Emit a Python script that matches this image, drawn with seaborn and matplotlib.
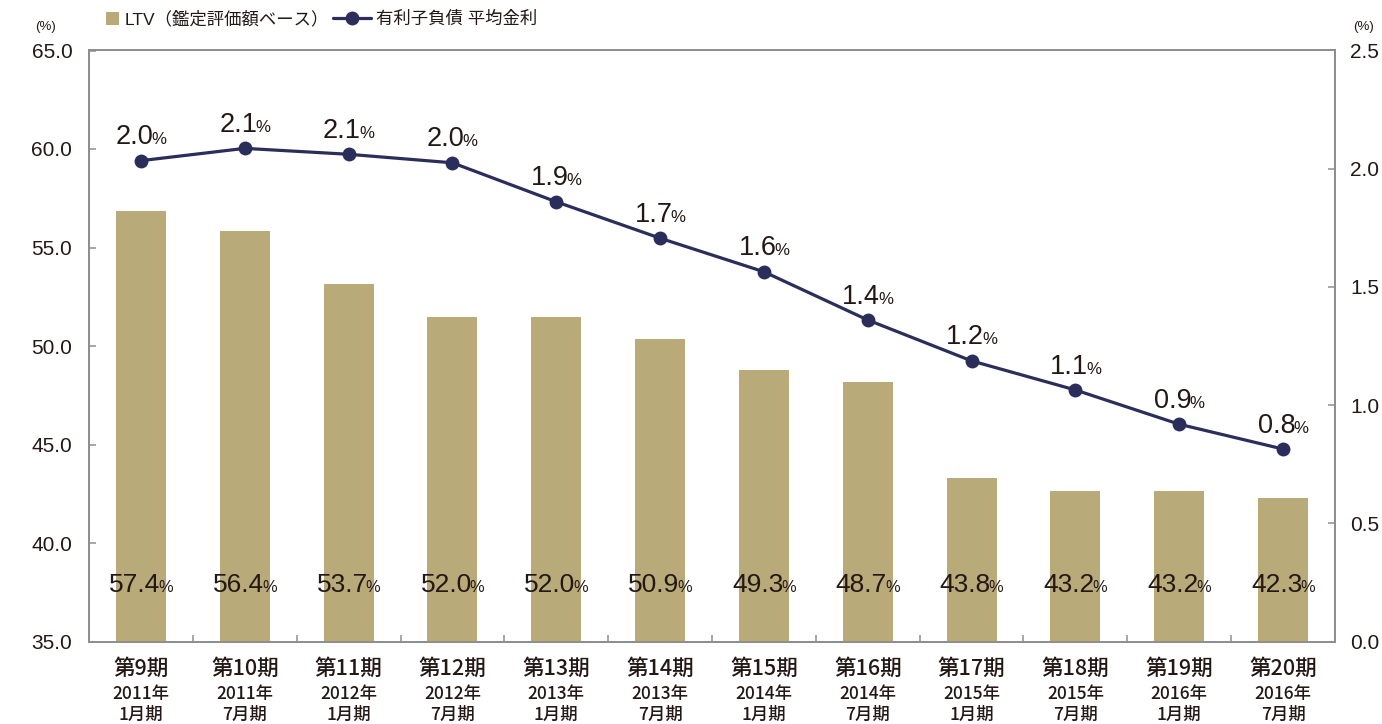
import numpy as np
import pandas as pd
import matplotlib
matplotlib.use('Agg')
import matplotlib.pyplot as plt
import seaborn as sns
from matplotlib.offsetbox import TextArea, HPacker, AnnotationBbox
from matplotlib.patches import Patch
from matplotlib.lines import Line2D
from matplotlib.ticker import FormatStrFormatter, FixedLocator

# ---------------- data ----------------
periods = ['第9期', '第10期', '第11期', '第12期', '第13期', '第14期',
           '第15期', '第16期', '第17期', '第18期', '第19期', '第20期']
years = ['2011年', '2011年', '2012年', '2012年', '2013年', '2013年',
         '2014年', '2014年', '2015年', '2015年', '2016年', '2016年']
months = ['1月期', '7月期', '1月期', '7月期', '1月期', '7月期',
          '1月期', '7月期', '1月期', '7月期', '1月期', '7月期']
# LTV bars as drawn (left axis) and their printed labels
ltv_bar = [56.85, 55.84, 53.15, 51.49, 51.49, 50.35, 48.78, 48.19, 43.28, 42.64, 42.64, 42.27]
ltv_labels = ['57.4', '56.4', '53.7', '52.0', '52.0', '50.9', '49.3', '48.7', '43.8', '43.2', '43.2', '42.3']
# average interest rate (right axis) and printed labels
rate = [2.034, 2.086, 2.061, 2.025, 1.860, 1.706, 1.564, 1.360, 1.187, 1.064, 0.919, 0.814]
rate_labels = ['2.0', '2.1', '2.1', '2.0', '1.9', '1.7', '1.6', '1.4', '1.2', '1.1', '0.9', '0.8']
legend_labels = ['LTV（鑑定評価額ベース）', '有利子負債 平均金利']
left_ticks = [35.0, 40.0, 45.0, 50.0, 55.0, 60.0, 65.0]
right_ticks = [0.0, 0.5, 1.0, 1.5, 2.0, 2.5]

# ---------------- style ----------------
BAR = '#b8aa79'
LINE = '#2b2e5a'
TXT = '#231815'
SPINE = '#8e8e8e'
LAT = 'Liberation Sans'
JP = 'Noto Sans CJK JP'
FAM = [LAT, JP]

sns.set_style('white')
plt.rcParams['font.family'] = FAM
plt.rcParams['text.color'] = TXT
plt.rcParams['xtick.color'] = SPINE
plt.rcParams['ytick.color'] = SPINE
plt.rcParams['xtick.labelcolor'] = TXT
plt.rcParams['ytick.labelcolor'] = TXT

fig = plt.figure(figsize=(13.82, 7.24), dpi=100)
ax = fig.add_axes([89 / 1382, 1 - 641.5 / 724, (1335 - 89) / 1382, (641.5 - 50.5) / 724])
ax2 = ax.twinx()

df = pd.DataFrame({'period': periods, 'ltv': ltv_bar, 'rate': rate, 'x': np.arange(len(periods))})

sns.barplot(data=df, x='period', y='ltv', ax=ax, color=BAR, width=0.48,
            saturation=1, linewidth=0)
sns.lineplot(data=df, x='x', y='rate', ax=ax2, color=LINE, linewidth=2.3,
             marker='o', markersize=10, markeredgewidth=0, legend=False)

n = len(periods)
ax.set_xlim(-0.5, n - 0.5)
ax2.set_xlim(-0.5, n - 0.5)
ax.set_ylim(35, 65)
ax2.set_ylim(0, 2.5)
ax.set_xlabel('')
ax.set_ylabel('')
ax2.set_xlabel('')
ax2.set_ylabel('')

ax.yaxis.set_major_locator(FixedLocator(left_ticks))
ax.yaxis.set_major_formatter(FormatStrFormatter('%.1f'))
ax2.yaxis.set_major_locator(FixedLocator(right_ticks))
ax2.yaxis.set_major_formatter(FormatStrFormatter('%.1f'))

ax.set_xticks([])
ax.set_xticks(np.arange(0.5, n - 0.5, 1.0), minor=True)
ax.tick_params(axis='x', which='minor', direction='in', length=5, width=1.1,
               color=SPINE, bottom=True, top=False, labelbottom=False)
ax.tick_params(axis='y', direction='in', length=5, width=1.1, pad=12,
               labelsize=15, colors=SPINE, labelcolor=TXT, left=True, right=False)
ax2.tick_params(axis='y', direction='in', length=5, width=1.1, pad=11,
                labelsize=15, colors=SPINE, labelcolor=TXT, right=True, left=False)
ax2.set_xticks([])

for a in (ax, ax2):
    for s in a.spines.values():
        s.set_visible(True)
        s.set_color(SPINE)
        s.set_linewidth(1.3)


def pct_label(axis, x, y, num, fs, offset):
    t1 = TextArea(num, textprops=dict(fontsize=fs, color=TXT, family=FAM))
    t2 = TextArea('%', textprops=dict(fontsize=fs * 0.62, color=TXT, family=FAM))
    box = HPacker(children=[t1, t2], align='baseline', pad=0, sep=-1.5)
    ab = AnnotationBbox(box, (x, y), xybox=(0, offset), xycoords='data',
                        boxcoords='offset points', box_alignment=(0.5, 0),
                        frameon=False, pad=0, annotation_clip=False)
    axis.add_artist(ab)


for i in range(n):
    pct_label(ax, i, 35, ltv_labels[i], 19, 32)
    pct_label(ax2, i, rate[i], rate_labels[i], 19.5, 7.5)

# multi-line category labels
for i in range(n):
    ax.annotate(periods[i], xy=(i, 0), xycoords=('data', 'axes fraction'),
                xytext=(0, -20), textcoords='offset points', ha='center', va='center',
                fontsize=15.5, family=[JP], fontweight='medium', color=TXT,
                annotation_clip=False)
    ax.annotate(years[i], xy=(i, 0), xycoords=('data', 'axes fraction'),
                xytext=(0, -38), textcoords='offset points', ha='center', va='center',
                fontsize=12.5, family=[JP], fontweight='medium', color=TXT,
                annotation_clip=False)
    ax.annotate(months[i], xy=(i, 0), xycoords=('data', 'axes fraction'),
                xytext=(0, -52.5), textcoords='offset points', ha='center', va='center',
                fontsize=12.5, family=[JP], fontweight='medium', color=TXT,
                annotation_clip=False)

# unit labels
fig.text(45 / 1382, 1 - 27 / 724, '(%)', ha='center', va='center', fontsize=9.5, color=TXT)
fig.text(1363 / 1382, 1 - 27 / 724, '(%)', ha='center', va='center', fontsize=9.5, color=TXT)

# legends
h1 = Patch(facecolor=BAR, edgecolor='none')
h2 = Line2D([0], [0], color=LINE, linewidth=2.3, marker='o', markersize=10, markeredgewidth=0)
fig.legend([h1], [legend_labels[0]], loc='center left', bbox_to_anchor=(106 / 1382, 1 - 19 / 724),
           frameon=False, handlelength=0.75, handleheight=0.75,
           handletextpad=0.3, borderpad=0, borderaxespad=0, prop={'family': FAM, 'size': 12.5})
fig.legend([h2], [legend_labels[1]], loc='center left', bbox_to_anchor=(333 / 1382, 1 - 19 / 724),
           frameon=False, handlelength=2.2, handletextpad=0.3, borderpad=0,
           borderaxespad=0, prop={'family': FAM, 'size': 12.5})

fig.savefig('out.png', dpi=100)
